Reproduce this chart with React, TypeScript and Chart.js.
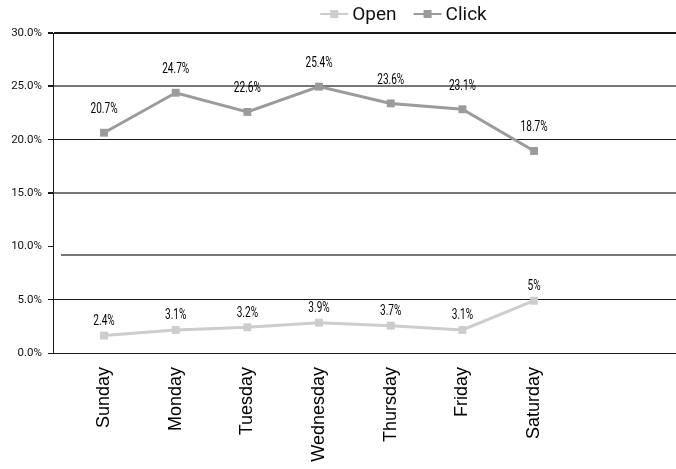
import React, { useEffect, useRef } from 'react';
import { Chart, registerables } from 'chart.js';

Chart.register(...registerables);

// ---- data ----
const days = ['Sunday', 'Monday', 'Tuesday', 'Wednesday', 'Thursday', 'Friday', 'Saturday'];
const seriesNames = ['Open', 'Click'];
const openValues = [1.63, 2.16, 2.41, 2.84, 2.56, 2.16, 4.9];
const clickValues = [20.65, 24.4, 22.6, 24.97, 23.4, 22.85, 18.94];
const openLabels = ['2.4%', '3.1%', '3.2%', '3.9%', '3.7%', '3.1%', '5%'];
const clickLabels = ['20.7%', '24.7%', '22.6%', '25.4%', '23.6%', '23.1%', '18.7%'];
const yTicks = [0, 5, 10, 15, 20, 25, 30];
const strayGridValue = 9.2;

const ROBOTO = "Roboto, 'Liberation Sans', sans-serif";
const ARIAL = "'Liberation Sans', Arial, sans-serif";
const OPEN_COLOR = '#cdcdcd';
const CLICK_COLOR = '#9b9b9b';
const DARK = '#1a1a1a';

const extras = {
  id: 'extras',
  beforeDatasetsDraw(chart: any) {
    const { ctx, chartArea, scales } = chart;
    const py = Math.round(scales.y.getPixelForValue(strayGridValue));
    ctx.save();
    ctx.strokeStyle = '#777';
    ctx.lineWidth = 2;
    ctx.beginPath();
    ctx.moveTo(chartArea.left + 8, py);
    ctx.lineTo(chartArea.right, py);
    ctx.stroke();
    ctx.restore();
  },
  afterDatasetsDraw(chart: any) {
    const { ctx } = chart;
    const labelSets = [openLabels, clickLabels];
    const offsets = [14, 23];
    const sx = 0.72;
    ctx.save();
    ctx.font = `14px ${ROBOTO}`;
    ctx.fillStyle = '#000';
    ctx.textAlign = 'center';
    ctx.textBaseline = 'middle';
    chart.data.datasets.forEach((_: any, di: number) => {
      const meta = chart.getDatasetMeta(di);
      meta.data.forEach((pt: any, i: number) => {
        ctx.save();
        ctx.translate(pt.x, pt.y - offsets[di]);
        ctx.scale(sx, 1);
        ctx.fillText(labelSets[di][i], 0, 0);
        ctx.restore();
      });
    });
    ctx.restore();
  },
  afterDraw(chart: any) {
    const { ctx } = chart;
    const ds = chart.data.datasets;
    ctx.save();
    ctx.font = `19px ${ROBOTO}`;
    const iconW = 28;
    const gapIcon = 4;
    const gapItem = 17;
    const widths = ds.map((d: any) => iconW + gapIcon + ctx.measureText(d.label).width);
    const total = widths.reduce((a: number, b: number) => a + b, 0) + gapItem * (ds.length - 1);
    let x = 403.5 - total / 2;
    const y = 14;
    ds.forEach((d: any, i: number) => {
      ctx.strokeStyle = d.borderColor;
      ctx.lineWidth = 2;
      ctx.beginPath();
      ctx.moveTo(x, y);
      ctx.lineTo(x + iconW, y);
      ctx.stroke();
      ctx.fillStyle = d.borderColor;
      ctx.fillRect(x + iconW / 2 - 4, y - 4, 8, 8);
      ctx.fillStyle = '#111';
      ctx.textAlign = 'left';
      ctx.textBaseline = 'middle';
      ctx.fillText(d.label, x + iconW + gapIcon, y + 1);
      x += widths[i] + gapItem;
    });
    ctx.restore();
  },
};

export default function App() {
  const ref = useRef<HTMLCanvasElement>(null);
  useEffect(() => {
    document.body.style.margin = '0';
    if (!ref.current) return;
    const chart = new Chart(ref.current, {
      type: 'line',
      data: {
        datasets: [
          {
            label: seriesNames[0],
            data: openValues.map((v, i) => ({ x: i, y: v })),
            borderColor: OPEN_COLOR,
            backgroundColor: OPEN_COLOR,
            borderWidth: 3,
            pointStyle: 'rect',
            pointRadius: 5.6,
            pointBorderWidth: 0,
            pointBackgroundColor: OPEN_COLOR,
            tension: 0,
          },
          {
            label: seriesNames[1],
            data: clickValues.map((v, i) => ({ x: i, y: v })),
            borderColor: CLICK_COLOR,
            backgroundColor: CLICK_COLOR,
            borderWidth: 3,
            pointStyle: 'rect',
            pointRadius: 5.6,
            pointBorderWidth: 0,
            pointBackgroundColor: CLICK_COLOR,
            tension: 0,
          },
        ],
      },
      options: {
        animation: false,
        responsive: false,
        devicePixelRatio: 1,
        layout: { autoPadding: false, padding: { top: 33, left: 0, right: 0, bottom: 0 } },
        plugins: {
          legend: { display: false },
          tooltip: { enabled: false },
        },
        scales: {
          x: {
            type: 'linear',
            min: -0.712,
            max: 7.98,
            afterBuildTicks: (s: any) => {
              s.ticks = days.map((_, i) => ({ value: i }));
            },
            afterFit: (s: any) => {
              s.height = 116;
              s.paddingLeft = 0;
              s.paddingRight = 0;
            },
            grid: { display: false, drawTicks: false },
            border: { display: true, color: DARK, width: 1 },
            ticks: {
              autoSkip: false,
              minRotation: 90,
              maxRotation: 90,
              padding: 14,
              color: '#000',
              font: { family: ARIAL, size: 18 },
              callback: (v: any) => days[v] ?? '',
            },
          },
          y: {
            min: 0,
            max: 30,
            afterBuildTicks: (s: any) => {
              s.ticks = yTicks.map((v) => ({ value: v }));
            },
            afterFit: (s: any) => {
              s.width = 53;
            },
            border: { display: true, color: DARK, width: 1 },
            grid: {
              color: (c: any) => {
                const v = c.tick?.value;
                if (v === 10) return 'rgba(0,0,0,0)';
                if (v === 15 || v === 25) return '#777';
                return DARK;
              },
              lineWidth: (c: any) => {
                const v = c.tick?.value;
                if (v === 15 || v === 25 || v === 30) return 2;
                return 1;
              },
              tickColor: DARK,
              tickLength: 5,
            },
            ticks: {
              padding: 6,
              color: '#111',
              font: { family: ROBOTO, size: 11.5 },
              callback: (v: any) => Number(v).toFixed(1) + '%',
            },
          },
        },
      },
      plugins: [extras],
    });
    return () => chart.destroy();
  }, []);
  return (
    <div style={{ width: 676, height: 469, position: 'relative' }}>
      <canvas ref={ref} width={676} height={469} style={{ display: 'block', width: 676, height: 469 }} />
    </div>
  );
}
